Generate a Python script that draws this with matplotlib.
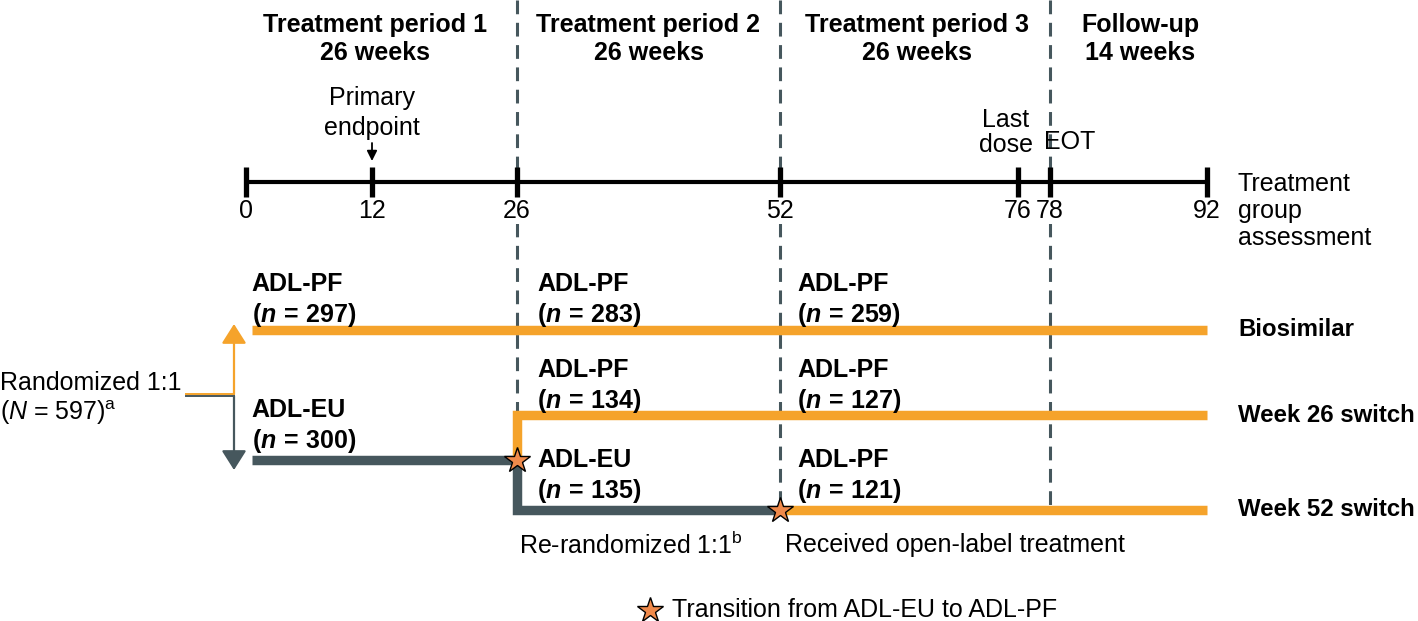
import numpy as np
import matplotlib.pyplot as plt

plt.rcParams['font.family'] = ['Liberation Sans', 'DejaVu Sans']
plt.rcParams['mathtext.fontset'] = 'custom'
plt.rcParams['mathtext.rm'] = 'Liberation Sans'
plt.rcParams['mathtext.it'] = 'Liberation Sans:italic'
plt.rcParams['mathtext.bf'] = 'Liberation Sans:bold'
plt.rcParams['mathtext.bfit'] = 'Liberation Sans:italic:bold'

# --- data ---
assess_weeks = [0, 12, 26, 52, 76, 78, 92]
period_bounds = [0, 26, 52, 78, 92]
period_titles = ['Treatment period 1', 'Treatment period 2', 'Treatment period 3', 'Follow-up']
period_lengths = ['26 weeks', '26 weeks', '26 weeks', '14 weeks']
divider_weeks = [26, 52, 78]
primary_endpoint_week = 12
last_dose_week = 76
eot_week = 78
arm_names = ['Biosimilar', 'Week 26 switch', 'Week 52 switch']
p1_groups = [('ADL-PF', 297), ('ADL-EU', 300)]
p2_groups = [('ADL-PF', 283), ('ADL-PF', 134), ('ADL-EU', 135)]
p3_groups = [('ADL-PF', 259), ('ADL-PF', 127), ('ADL-PF', 121)]
n_total = 597
switch_weeks = [26, 52]

# schematic (non-uniform) spacing of the timeline
scale_weeks = [-23.43, 0, 12, 26, 52, 76, 78, 92, 110.84]
scale_units = [0, 246, 372, 517, 780, 1018, 1050, 1207, 1418]


def fwd(w):
    return np.interp(w, scale_weeks, scale_units)


def inv(u):
    return np.interp(u, scale_units, scale_weeks)


orange = '#F5A32B'
grey = '#46575D'
star_col = '#F08A4B'
FS = 18

fig = plt.figure(figsize=(14.18, 6.21), dpi=100)
ax = fig.add_axes([0, 0, 1, 1])
ax.set_xscale('function', functions=(fwd, inv))
ax.set_xlim(scale_weeks[0], scale_weeks[-1])
ax.set_ylim(621, 0)
ax.axis('off')

# row levels (layout)
y_tl = 182
y_bio, y_w26, y_eu, y_w52 = 330, 415, 460, 510
y_rand = 395
line_start = 0.55
lw = 6.8
x_right = inv(fwd(92) + 31)

# headers
head_shift = [-6, 0, 2, 12]
for i, (t, l) in enumerate(zip(period_titles, period_lengths)):
    cx = inv((fwd(period_bounds[i]) + fwd(period_bounds[i + 1])) / 2 + head_shift[i])
    ax.text(cx, 25, t, ha='center', va='center', fontsize=FS, fontweight='bold')
    ax.text(cx, 53, l, ha='center', va='center', fontsize=FS, fontweight='bold')

# dividers
for w in divider_weeks:
    ax.plot([w, w], [0, 512], color=grey, lw=2.2, ls=(0, (4.5, 2.8)), zorder=1)

# timeline
ax.plot([assess_weeks[0], assess_weeks[-1]], [y_tl, y_tl], color='black', lw=3,
        solid_capstyle='butt', zorder=2)
for w in assess_weeks:
    ax.plot([w, w], [167, 197], color='black', lw=3.8, solid_capstyle='butt', zorder=2)
    ax.text(w, 211, str(w), ha='center', va='center', fontsize=FS, zorder=3,
            bbox=dict(boxstyle='square,pad=0.05', fc='white', ec='none'))
for txt, y in zip(['Treatment', 'group', 'assessment'], [184, 211, 238]):
    ax.text(x_right, y, txt, ha='left', va='center', fontsize=FS)

ax.text(primary_endpoint_week, 98, 'Primary', ha='center', va='center', fontsize=FS)
ax.text(primary_endpoint_week, 128, 'endpoint', ha='center', va='center', fontsize=FS)
ax.annotate('', xy=(primary_endpoint_week, 161), xytext=(primary_endpoint_week, 143),
            arrowprops=dict(arrowstyle='-|>,head_length=0.5,head_width=0.25', color='black',
                            lw=1.3, shrinkA=0, shrinkB=0, mutation_scale=12))
ax.text(inv(fwd(last_dose_week) - 12), 120, 'Last', ha='center', va='center', fontsize=FS)
ax.text(inv(fwd(last_dose_week) - 12), 145, 'dose', ha='center', va='center', fontsize=FS)
ax.text(inv(fwd(eot_week) + 20), 142, 'EOT', ha='center', va='center', fontsize=FS)

# arms
ax.plot([line_start, period_bounds[-1]], [y_bio, y_bio], color=orange, lw=lw,
        solid_capstyle='butt', zorder=3)
ax.plot([line_start, switch_weeks[0], switch_weeks[0], switch_weeks[1]], [y_eu, y_eu, y_w52, y_w52],
        color=grey, lw=lw, solid_capstyle='butt', solid_joinstyle='miter', zorder=3)
ax.plot([switch_weeks[0], switch_weeks[0], period_bounds[-1]], [y_eu, y_w26, y_w26],
        color=orange, lw=lw, solid_capstyle='butt', solid_joinstyle='miter', zorder=3)
ax.plot([switch_weeks[1], period_bounds[-1]], [y_w52, y_w52], color=orange, lw=lw,
        solid_capstyle='butt', zorder=3)
ax.plot(switch_weeks, [y_eu, y_w52], ls='none', marker='*', ms=19, mfc=star_col,
        mec='black', mew=1, zorder=5)

for name, y in zip(arm_names, [y_bio, y_w26, y_w52]):
    ax.text(x_right, y, name, ha='left', va='center', fontsize=17.3, fontweight='bold')


def group_label(x, y, name, n):
    ax.text(x, y, name, ha='left', va='center', fontsize=FS, fontweight='bold')
    ax.text(x, y + 31, r'$\mathbf{(}\mathbfit{n}\mathbf{\,=\,%d)}$' % n,
            ha='left', va='center', fontsize=FS)


group_label(line_start, 284, *p1_groups[0])
group_label(line_start, 410, *p1_groups[1])
x2 = inv(fwd(26) + 20)
x3 = inv(fwd(52) + 17)
for (g, n), y in zip(p2_groups, [284, 370, 460]):
    group_label(x2, y, g, n)
for (g, n), y in zip(p3_groups, [284, 370, 460]):
    group_label(x3, y, g, n)

# randomisation
xr = inv(234)
x_rs = inv(186)
ax.plot([x_rs, xr], [y_rand - 1, y_rand - 1], color=orange, lw=1.4)
ax.plot([x_rs, xr], [y_rand + 1, y_rand + 1], color=grey, lw=1.4)
ax.annotate('', xy=(xr, 324), xytext=(xr, y_rand - 1),
            arrowprops=dict(arrowstyle='-|>,head_length=0.6,head_width=0.38', color=orange,
                            lw=1.6, shrinkA=0, shrinkB=0, mutation_scale=20))
ax.annotate('', xy=(xr, 470), xytext=(xr, y_rand + 1),
            arrowprops=dict(arrowstyle='-|>,head_length=0.6,head_width=0.38', color=grey,
                            lw=1.6, shrinkA=0, shrinkB=0, mutation_scale=20))
ax.text(scale_weeks[0], 383, 'Randomized 1:1', ha='left', va='center', fontsize=FS)
ax.text(scale_weeks[0], 413, r'($\mathit{N}$ = %d)$^{\mathrm{a}}$' % n_total,
        ha='left', va='center', fontsize=FS)

ax.text(inv(fwd(26) + 2), 545, r'Re-randomized 1:1$^{\mathrm{b}}$', ha='left', va='center', fontsize=FS)
ax.text(inv(fwd(52) + 5), 545, 'Received open-label treatment', ha='left', va='center', fontsize=FS)

# legend
ax.plot([inv(650)], [610], ls='none', marker='*', ms=19, mfc=star_col, mec='black', mew=1)
ax.text(inv(672), 610, 'Transition from ADL-EU to ADL-PF', ha='left', va='center', fontsize=FS)

fig.savefig('out.png', dpi=100)
